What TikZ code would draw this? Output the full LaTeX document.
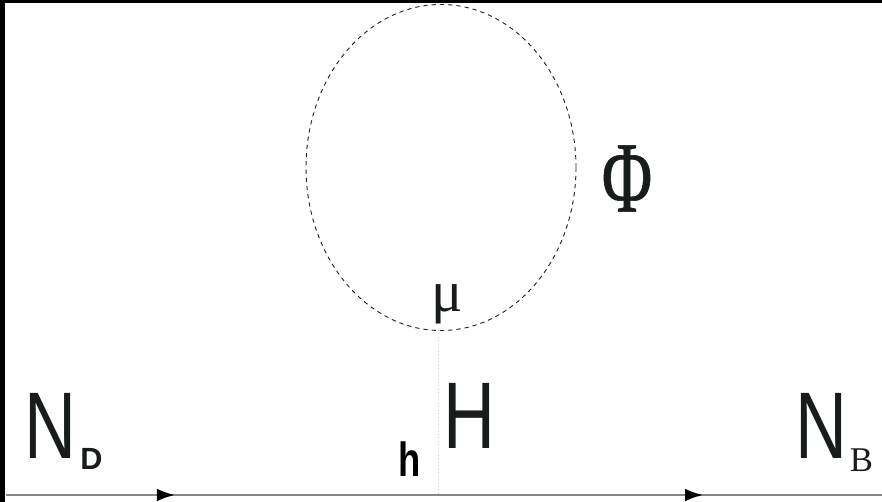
\documentclass[tikz,border=0pt]{standalone}
\usepackage{fontspec}
\setmainfont{Liberation Sans}
\newfontfamily\narrowface[FakeStretch=0.76]{Liberation Sans}
\newfontfamily\serifface{Liberation Serif}
\newfontfamily\phiface[FakeStretch=0.68,FakeBold=0.6]{Liberation Serif}
\usetikzlibrary{arrows.meta,decorations.markings}
\definecolor{linegray}{RGB}{135,135,135}
\definecolor{inkblack}{RGB}{25,28,28}
\tikzset{
  bigletter/.style={inner sep=0pt, text=inkblack, font=\narrowface\fontsize{71}{71}\selectfont},
  smallindex/.style={inner sep=0pt, text=inkblack},
  fermion/.style={draw=linegray, line width=1.6pt, postaction={decorate},
    decoration={markings, mark=at position #1 with {\arrow[black]{Latex[length=13.5pt,width=9.5pt]}}}},
}
\begin{document}
\begin{tikzpicture}[x=0.75pt,y=-0.75pt]
    % Frame
    \fill[black] (0,0) rectangle (882,502);
    \fill[white] (5,3) rectangle (882,502);
    \useasboundingbox (0,0) rectangle (882,502);

    % Vertices
    \coordinate (left) at (6,495);
    \coordinate (right) at (882,495);
    \coordinate (vtop) at (438,330);
    \coordinate (vbot) at (438,495);
    \coordinate (centre) at (441,167.5);

    % Lines
    \draw[fermion=0.391] (left) -- (vbot);
    \draw[fermion=0.597] (vbot) -- (right);
    \draw[dotted, line width=0.6pt, black!20] (vtop) -- (vbot);
    \draw[dash pattern=on 3.2pt off 3pt, line width=0.7pt, black!85] (centre) ellipse [x radius=135, y radius=163];

    % Labels
    \node[bigletter] (nd) at (50,425.5) {N};
    \node[smallindex, font=\bfseries\fontsize{23}{23}\selectfont] (ndsub) at (91.5,458.5) {D};
    \node[bigletter] (hbig) at (469.5,415.5) {H};
    \node[smallindex, font=\narrowface\bfseries\fontsize{36}{36}\selectfont, text=black] (hsmall) at (410,459.5) {h};
    \node[bigletter] (nb) at (821,425.5) {N};
    \node[smallindex, font=\serifface\fontsize{26}{26}\selectfont] (nbsub) at (861.5,460.5) {B};
    \node[smallindex, font=\serifface\fontsize{44}{44}\selectfont, anchor=base] (mu) at (447.5,312) {μ};
    \node[smallindex, font=\phiface\fontsize{76}{76}\selectfont] (phi) at (627,178.5) {Φ};
\end{tikzpicture}
\end{document}
